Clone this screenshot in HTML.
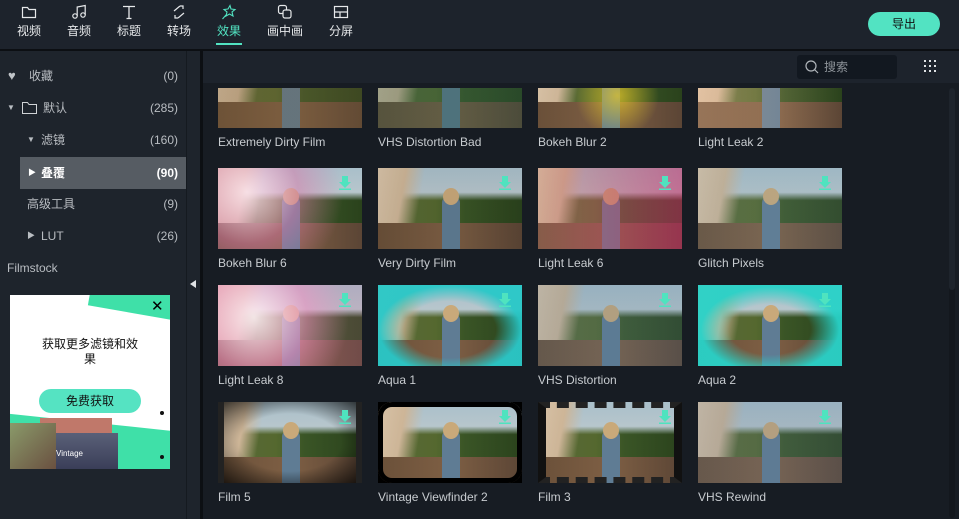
<!DOCTYPE html>
<html><head><meta charset="utf-8">
<style>
*{margin:0;padding:0;box-sizing:border-box}
body{width:959px;height:519px;overflow:hidden;background:#1d232c;font-family:"Liberation Sans","Noto Sans CJK SC",sans-serif;color:#c9cdd2;position:relative}
.abs{position:absolute}
.tab{position:absolute;top:4px;width:50px;text-align:center;font-size:12px;color:#e6e8ea}
.tab svg{display:block;margin:0 auto 2px}
.row{position:absolute;left:0;width:186px;height:32px;font-size:12px;color:#b9bdc2;line-height:32px}
.row .c{position:absolute;right:8px;top:0}
.thumb{position:absolute;width:144px;height:81px;overflow:hidden;
background:
linear-gradient(100deg,#d8c3a8 0%,#cdb597 18%,rgba(0,0,0,0) 30%),
linear-gradient(180deg,#a9bfca 0%,#b7c6cc 30%,rgba(0,0,0,0) 40%),
linear-gradient(90deg,#5a6a3a 0%,#55682f 40%,#3a5526 60%,#2a421c 100%);}
.thumb .gnd{position:absolute;left:0;right:0;bottom:0;height:32%;background:linear-gradient(90deg,#6a5039,#7e5f44 50%,#5b4535)}
.thumb .girl{position:absolute;left:64px;top:28px;width:18px;height:53px;background:#5f7c94;border-radius:7px 7px 0 0}
.thumb .hair{position:absolute;left:65px;top:20px;width:16px;height:17px;background:#c9a97a;border-radius:50%}
.thumb .ov{position:absolute;inset:0}
.lbl{position:absolute;font-size:12px;color:#c8ccd0;white-space:nowrap}
.dl{position:absolute;right:10px;top:8px;width:14px;height:14px}
</style></head><body>
<div class="abs" style="left:0;top:0;width:959px;height:49px;background:#1d232c"></div>
<div class="abs" style="left:0;top:49px;width:959px;height:2px;background:#0c0f13"></div>

<div class="tab" style="left:4px">
<svg width="16" height="16" viewBox="0 0 16 16"><path d="M1.5 3.5h5l1.5 2h6.5v8h-13z" fill="none" stroke="#e6e8ea" stroke-width="1.2"/></svg>视频</div>
<div class="tab" style="left:54px">
<svg width="16" height="16" viewBox="0 0 16 16"><circle cx="4" cy="12" r="2.2" fill="none" stroke="#e6e8ea" stroke-width="1.2"/><circle cx="12" cy="11" r="2.2" fill="none" stroke="#e6e8ea" stroke-width="1.2"/><path d="M6.2 12V3l8-1.5V11" fill="none" stroke="#e6e8ea" stroke-width="1.2"/></svg>音频</div>
<div class="tab" style="left:104px">
<svg width="16" height="16" viewBox="0 0 16 16"><path d="M2 2.5h12M8 2.5v12M5.5 14.5h5" stroke="#e6e8ea" stroke-width="1.3" fill="none"/></svg>标题</div>
<div class="tab" style="left:154px">
<svg width="16" height="16" viewBox="0 0 16 16"><path d="M3 7l6-5M7 14l6-5M9 2h3v3M7 14H4v-3" stroke="#e6e8ea" stroke-width="1.2" fill="none"/></svg>转场</div>
<div class="tab" style="left:204px;color:#52e3c2">
<svg width="16" height="16" viewBox="0 0 16 16"><path d="M9 1.5l1 3.5 4 .5-3 2.5 1 4-3.5-2-3.5 2 1-4-3-2.5 4-.5zM5 11l-3.5 4" stroke="#52e3c2" stroke-width="1.1" fill="none"/></svg>效果</div>
<div class="abs" style="left:216px;top:43px;width:26px;height:2px;background:#52e3c2"></div>
<div class="tab" style="left:260px">
<svg width="16" height="16" viewBox="0 0 16 16"><rect x="1.5" y="1.5" width="8" height="8" rx="2" fill="none" stroke="#e6e8ea" stroke-width="1.2"/><rect x="6" y="6" width="8" height="8" rx="2" fill="#1d232c" stroke="#e6e8ea" stroke-width="1.2"/></svg>画中画</div>
<div class="tab" style="left:316px">
<svg width="16" height="16" viewBox="0 0 16 16"><rect x="1.5" y="2.5" width="13" height="11" fill="none" stroke="#e6e8ea" stroke-width="1.2"/><path d="M1.5 8h13M7 8v5.5" stroke="#e6e8ea" stroke-width="1.2"/></svg>分屏</div>
<div class="abs" style="left:868px;top:12px;width:72px;height:24px;border-radius:12px;background:#52e3c2;color:#111;font-size:12px;text-align:center;line-height:24px">导出</div>

<div class="abs" style="left:0;top:51px;width:186px;height:468px;background:#1e242c"></div>
<div class="abs" style="left:186px;top:51px;width:1px;height:468px;background:#151a20"></div>
<div class="abs" style="left:187px;top:51px;width:13px;height:468px;background:#1e242c"></div>
<div class="abs" style="left:190px;top:280px;width:0;height:0;border-top:4px solid transparent;border-bottom:4px solid transparent;border-right:6px solid #e0e3e6"></div>
<div class="abs" style="left:200px;top:51px;width:3px;height:468px;background:#0c0f13"></div>

<div class="row" style="top:60px"><span class="abs" style="left:8px;top:0;font-size:13px;color:#c0c4c8">♥</span><span class="abs" style="left:29px">收藏</span><span class="c">(0)</span></div>
<div class="row" style="top:92px"><span class="abs" style="left:7px;font-size:8px">▼</span><svg class="abs" style="left:22px;top:10px" width="15" height="12" viewBox="0 0 15 12"><path d="M.5 .5h5l1.5 2h7.5v9H.5z" fill="none" stroke="#d0d3d6"/></svg><span class="abs" style="left:43px">默认</span><span class="c">(285)</span></div>
<div class="row" style="top:124px"><span class="abs" style="left:27px;font-size:8px">▼</span><span class="abs" style="left:41px">滤镜</span><span class="c">(160)</span></div>
<div class="row" style="top:157px;left:20px;width:166px;background:#565c63;color:#fff;font-weight:bold"><span class="abs" style="left:8px;font-size:8px;font-weight:normal">▶</span><span class="abs" style="left:21px">叠覆</span><span class="c">(90)</span></div>
<div class="row" style="top:188px"><span class="abs" style="left:27px">高级工具</span><span class="c">(9)</span></div>
<div class="row" style="top:220px"><span class="abs" style="left:27px;font-size:8px">▶</span><span class="abs" style="left:41px">LUT</span><span class="c">(26)</span></div>
<div class="row" style="top:252px"><span class="abs" style="left:7px">Filmstock</span></div>

<div class="abs" style="left:10px;top:295px;width:160px;height:174px;background:#fff;overflow:hidden">
 <div class="abs" style="left:80px;top:-14px;width:110px;height:34px;background:#3fe0a8;transform:rotate(10deg)"></div>
 <div class="abs" style="left:-10px;top:128px;width:190px;height:70px;background:#3fe0a8;transform:rotate(6deg)"></div>
 <div class="abs" style="left:141px;top:2px;font-size:15px;color:#000">✕</div>
 <div class="abs" style="left:31px;top:42px;width:98px;text-align:center;font-size:12px;color:#111;line-height:15px">获取更多滤镜和效果</div>
 <div class="abs" style="left:29px;top:94px;width:102px;height:24px;border-radius:12px;background:#55e3c2;text-align:center;line-height:24px;font-size:12px;color:#111">免费获取</div>
 <div class="abs" style="left:150px;top:116px;width:4px;height:4px;border-radius:50%;background:#111"></div>
 <div class="abs" style="left:150px;top:160px;width:4px;height:4px;border-radius:50%;background:#111"></div>
 <div class="abs" style="left:30px;top:123px;width:72px;height:46px;background:#c0786a"></div>
 <div class="abs" style="left:0;top:128px;width:46px;height:46px;background:linear-gradient(135deg,#8a9a6a,#6a5040)"></div>
 <div class="abs" style="left:46px;top:138px;width:62px;height:36px;background:linear-gradient(180deg,#5a6078,#3a3e58);color:#fff;font-size:8px;padding-top:16px">Vintage</div>
</div>

<div class="abs" style="left:203px;top:51px;width:756px;height:32px;background:#1d232c"></div>
<div class="abs" style="left:203px;top:83px;width:756px;height:436px;background:#171c23"></div>
<div class="abs" style="left:797px;top:55px;width:100px;height:24px;border-radius:3px;background:#121820;font-size:12px;color:#8e949a;line-height:24px;padding-left:27px">搜索
<svg class="abs" style="left:8px;top:5px" width="14" height="14" viewBox="0 0 14 14"><circle cx="6" cy="6" r="5" fill="none" stroke="#b0b5ba" stroke-width="1.2"/><path d="M9.5 9.5l3.5 3.5" stroke="#b0b5ba" stroke-width="1.2"/></svg></div>
<svg class="abs" style="left:924px;top:60px" width="14" height="14" viewBox="0 0 14 14"><g fill="#dfe2e5"><rect x="0" y="0" width="2" height="2"/><rect x="5" y="0" width="2" height="2"/><rect x="10" y="0" width="2" height="2"/><rect x="0" y="5" width="2" height="2"/><rect x="5" y="5" width="2" height="2"/><rect x="10" y="5" width="2" height="2"/><rect x="0" y="10" width="2" height="2"/><rect x="5" y="10" width="2" height="2"/><rect x="10" y="10" width="2" height="2"/></g></svg>
<div class="abs" style="left:949px;top:88px;width:6px;height:430px;background:#13171d;border-radius:3px"></div>
<div class="abs" style="left:949px;top:88px;width:6px;height:202px;background:#1e242c;border-radius:3px"></div>

<div class="abs" id="grid" style="left:203px;top:88px;width:744px;height:431px;overflow:hidden"></div>

<script>
const names=["Extremely Dirty Film","VHS Distortion Bad","Bokeh Blur 2","Light Leak 2","Bokeh Blur 6","Very Dirty Film","Light Leak 6","Glitch Pixels","Light Leak 8","Aqua 1","VHS Distortion","Aqua 2","Film 5","Vintage Viewfinder 2","Film 3","VHS Rewind"];
const overlays=[
"linear-gradient(rgba(120,90,50,.25),rgba(120,90,50,.25))",
"linear-gradient(rgba(40,90,70,.3),rgba(40,90,70,.3))",
"radial-gradient(circle at 55% 60%,rgba(230,200,40,.75),rgba(0,0,0,0) 45%)",
"linear-gradient(90deg,rgba(255,200,160,.3),rgba(0,0,0,0))",
"radial-gradient(circle at 20% 30%,rgba(255,230,240,.85),rgba(220,120,170,.5) 40%,rgba(0,0,0,0) 75%)",
"linear-gradient(rgba(0,0,0,.05),rgba(0,0,0,.05))",
"linear-gradient(90deg,rgba(200,120,110,.3),rgba(200,40,100,.55))",
"linear-gradient(rgba(100,140,160,.15),rgba(100,140,160,.15))",
"radial-gradient(circle at 25% 40%,rgba(255,240,245,.9),rgba(240,140,190,.6) 45%,rgba(200,100,150,.2) 80%)",
"radial-gradient(ellipse at 50% 55%,rgba(0,0,0,0) 45%,rgba(40,200,200,.95) 70%)",
"linear-gradient(rgba(80,120,150,.2),rgba(80,120,150,.2))",
"radial-gradient(ellipse at 50% 55%,rgba(0,0,0,0) 40%,rgba(40,210,200,.95) 68%)",
"radial-gradient(ellipse at 50% 50%,rgba(0,0,0,0) 50%,rgba(0,0,0,.7) 95%)",
"",
"",
"linear-gradient(rgba(90,120,150,.2),rgba(90,120,150,.2))"];
const colX=[15,175,335,495], rowY=[-41,80,197,314];
const g=document.getElementById('grid');
names.forEach((n,i)=>{
 const c=i%4,r=Math.floor(i/4);
 const t=document.createElement('div');
 t.className='thumb';
 
 
 t.style.left=colX[c]+'px';t.style.top=rowY[r]+'px';
 let h='<div class="gnd"></div><div class="girl"></div><div class="hair"></div><div class="ov" style="background:'+overlays[i]+'"></div>';
 if(i==13) h+='<div class="ov" style="border:5px solid #000;border-radius:14px;box-shadow:0 0 0 6px #000"></div>';
 if(i==14) h+='<div class="ov" style="border-top:6px dashed #222;border-bottom:6px dashed #222;border-left:8px solid #111;border-right:8px solid #111"></div>';
 if(i==12) h+='<div class="ov" style="border-left:6px solid #222;border-right:6px solid #222"></div>';
 if(r>0) h+='<svg class="dl" viewBox="0 0 14 14"><path d="M4 0h6v6h3l-6 6-6-6h3z" fill="#4fe3bf"/><rect x="1" y="12.5" width="12" height="1.5" fill="#4fe3bf"/></svg>';
 t.innerHTML=h;
 g.appendChild(t);
 const l=document.createElement('div');
 l.className='lbl';
 
 
 l.style.left=colX[c]+'px';l.style.top=(rowY[r]+88)+'px';
 l.textContent=n;
 g.appendChild(l);
});
</script>
</body></html>
